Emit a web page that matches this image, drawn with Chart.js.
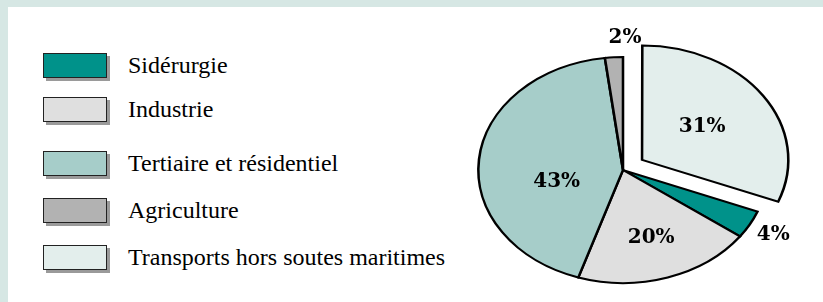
<!DOCTYPE html>
<html>
<head>
<meta charset="utf-8">
<script src="https://cdn.jsdelivr.net/npm/chart.js@4.4.0/dist/chart.umd.min.js"></script>
<style>
  html, body { margin: 0; padding: 0; }
  body { width: 823px; height: 302px; background: #d6e7e4; position: relative; overflow: hidden; }
  #panel { position: absolute; left: 8px; top: 7px; right: 0; bottom: 0; background: #fff; }
  #chart { position: absolute; left: 0; top: 0; }
  .legend-row { position: absolute; left: 43px; height: 25px; display: flex; align-items: center; }
  .legend-box { width: 62px; height: 23px; border: 1.5px solid #222; box-shadow: 3px 3px 0 #9a9a9a; box-sizing: content-box; }
  .legend-text { margin-left: 21px; font-family: 'Liberation Serif', 'Times New Roman', serif; font-size: 24px; color: #000; white-space: nowrap; }
</style>
</head>
<body>
<div id="panel"></div>
<div id="legend"></div>
<canvas id="chart" width="823" height="302"></canvas>
<script>
// Données : consommation par secteur (%)
const categories = ['Sidérurgie', 'Industrie', 'Tertiaire et résidentiel', 'Agriculture', 'Transports hors soutes maritimes'];
const values = [4, 20, 43, 2, 31];
const pctLabels = ['4%', '20%', '43%', '2%', '31%'];

// Mise en page
const colors = ['#00928a', '#dfdfdf', '#a6cdc9', '#b2b2b2', '#e3eeec'];
const explode = [0, 0, 0, 0, 72];
const legendTops = [53, 97, 151, 198, 245];
// position des étiquettes : facteur de rayon, décalage d'angle (deg)
const labelPlace = [[1.185, 0], [0.63, 0], [0.47, -18], [1.17, 4.3], [0.67, -1]];
const pieRadius = 113;
const stretchX = 1.28;

// Légende HTML
const legendEl = document.getElementById('legend');
categories.forEach((name, i) => {
  const row = document.createElement('div');
  row.className = 'legend-row';
  row.style.top = legendTops[i] + 'px';
  row.innerHTML = '<div class="legend-box" style="background:' + colors[i] + '"></div>' +
    '<span class="legend-text">' + name + '</span>';
  legendEl.appendChild(row);
});

// Camembert elliptique + étiquettes
const ellipsePlugin = {
  id: 'ellipse',
  beforeDatasetsDraw(chart) {
    const arc = chart.getDatasetMeta(0).data[0];
    const ctx = chart.ctx;
    ctx.save();
    ctx.translate(arc.x, arc.y);
    ctx.scale(stretchX, 1);
    ctx.translate(-arc.x, -arc.y);
  },
  afterDatasetsDraw(chart) {
    const ctx = chart.ctx;
    ctx.restore();
    ctx.save();
    ctx.font = 'bold 20px "DejaVu Serif", serif';
    ctx.fillStyle = '#000';
    ctx.textAlign = 'center';
    ctx.textBaseline = 'middle';
    chart.getDatasetMeta(0).data.forEach((arc, i) => {
      const mid = (arc.startAngle + arc.endAngle) / 2 + labelPlace[i][1] * Math.PI / 180;
      const r = arc.outerRadius * labelPlace[i][0];
      const x = arc.x + Math.cos(mid) * r * stretchX;
      const y = arc.y + Math.sin(mid) * r;
      ctx.fillText(pctLabels[i], x, y);
    });
    ctx.restore();
  }
};

new Chart(document.getElementById('chart'), {
  type: 'pie',
  data: {
    labels: categories,
    datasets: [{
      data: values,
      backgroundColor: colors,
      borderColor: '#000',
      borderWidth: 2,
      borderJoinStyle: 'miter',
      offset: explode
    }]
  },
  options: {
    responsive: false,
    animation: false,
    rotation: 111.6,
    radius: pieRadius,
    layout: { padding: { left: 423, top: 38, right: 0, bottom: 0 } },
    plugins: {
      legend: { display: false },
      tooltip: { enabled: false }
    }
  },
  plugins: [ellipsePlugin]
});
</script>
</body>
</html>
